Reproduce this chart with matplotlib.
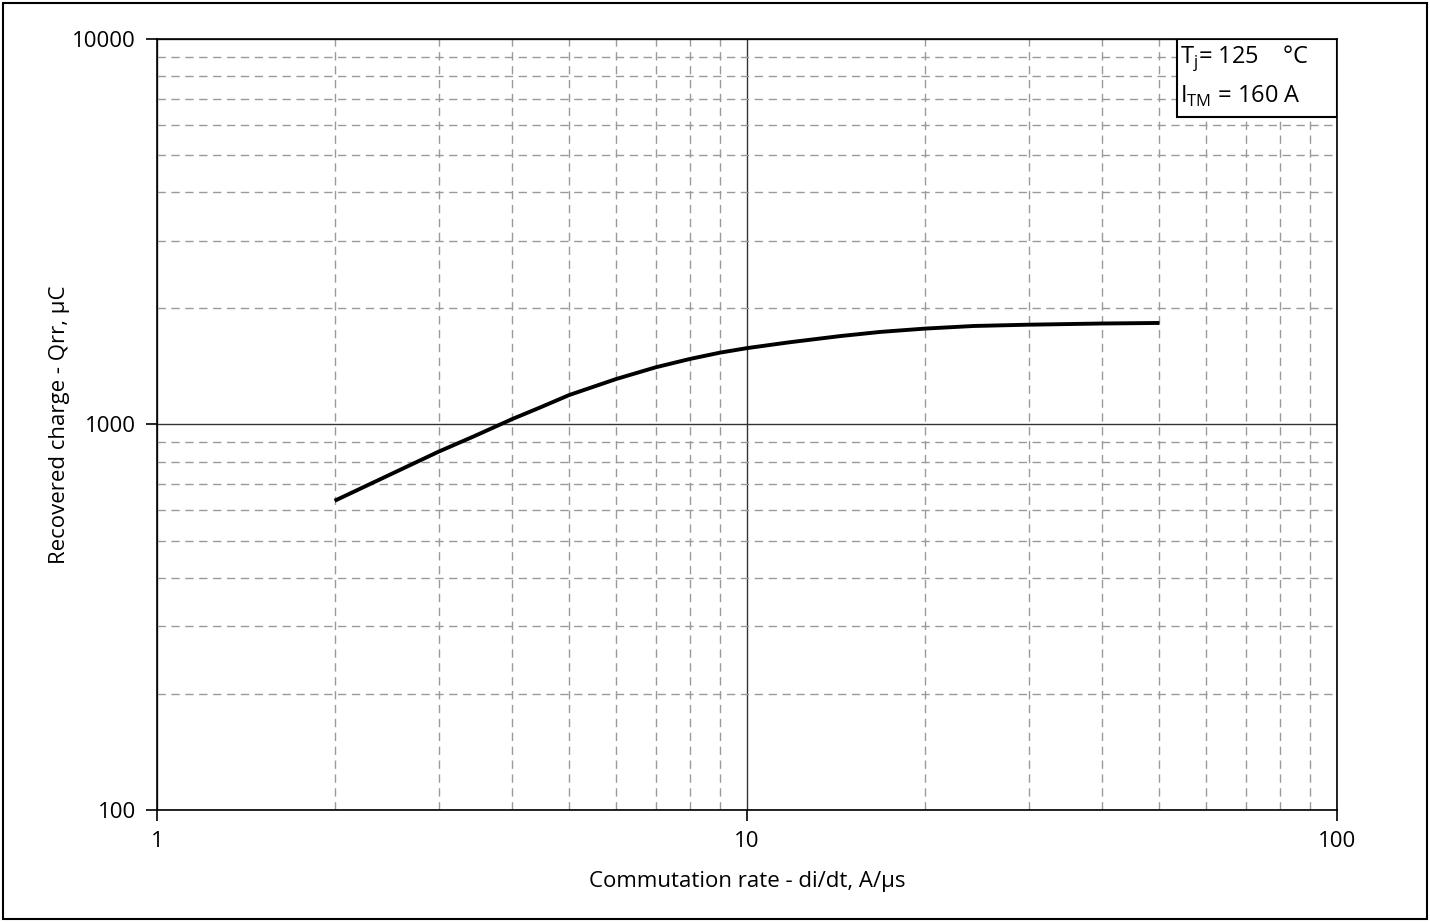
import numpy as np
import matplotlib
matplotlib.use("Agg")
import matplotlib.pyplot as plt
from matplotlib.patches import Rectangle
from matplotlib.ticker import LogLocator, FixedLocator, NullFormatter

plt.rcParams['font.family'] = ['Open Sans', 'DejaVu Sans']

# Qrr vs di/dt
didt = [2, 3, 3.44, 4, 4.46, 5, 6, 7, 8, 9, 10,
        11.8, 14.4, 16.8, 20, 24.2, 30, 40, 50]
qrr = [634, 850, 931, 1033, 1107, 1193, 1312, 1407, 1479, 1536, 1578,
       1634, 1696, 1738, 1773, 1801, 1815, 1828, 1834]

x_ticks = [1, 10, 100]
x_ticklabels = ["1", "10", "100"]
y_ticks = [100, 1000, 10000]
y_ticklabels = ["100", "1000", "10000"]

FS = 16

fig = plt.figure(figsize=(14.3, 9.22), dpi=100)
ax = fig.add_axes([0.1098, 0.1215, 0.8252, 0.8362])

ax.set_xscale("log")
ax.set_yscale("log")
ax.set_xlim(1, 100)
ax.set_ylim(100, 10000)

# minor grid: dashed grey, major grid: solid dark
ax.xaxis.set_minor_locator(LogLocator(base=10, subs=np.arange(2, 10)))
ax.yaxis.set_minor_locator(LogLocator(base=10, subs=np.arange(2, 10)))
ax.xaxis.set_minor_formatter(NullFormatter())
ax.yaxis.set_minor_formatter(NullFormatter())
ax.grid(which="minor", color="#9a9a9a", linestyle=(0, (6, 4)), linewidth=1.0)
ax.grid(which="major", color="#333333", linestyle="-", linewidth=1.0)
ax.tick_params(which="minor", length=0)

ax.xaxis.set_major_locator(FixedLocator(x_ticks))
ax.yaxis.set_major_locator(FixedLocator(y_ticks))
ax.set_xticklabels(x_ticklabels)
ax.set_yticklabels(y_ticklabels)
ax.tick_params(which="major", direction="out", length=8, width=1.2, labelsize=FS, pad=7, colors="black")

for s in ax.spines.values():
    s.set_linewidth(1.2)

ax.plot(didt, qrr, color="black", linewidth=2.8, solid_capstyle="butt", solid_joinstyle="round")

ax.set_xlabel("Commutation rate - di/dt, A/\u00b5s", fontsize=FS, labelpad=14)
ax.set_ylabel("Recovered charge - Qrr, \u00b5C", fontsize=FS, labelpad=2)

# condition box in top right
box = Rectangle((0.8644, 0.8988), 0.1356, 0.1012, transform=ax.transAxes,
                facecolor="white", edgecolor="black", linewidth=1.5, zorder=5)
ax.add_patch(box)
ax.text(0.867, 0.975, "T$_{\\mathregular{j}}$= 125    \u00b0C", transform=ax.transAxes,
        fontsize=FS + 1, va="center", ha="left", zorder=6)
ax.text(0.867, 0.926, "I$_{\\mathregular{TM}}$ = 160 A", transform=ax.transAxes,
        fontsize=FS + 1, va="center", ha="left", zorder=6)

# outer frame
fig.patches.append(Rectangle((0.002, 0.003), 0.996, 0.994, transform=fig.transFigure,
                             fill=False, edgecolor="black", linewidth=1.5))

fig.savefig("out.png", dpi=100)
